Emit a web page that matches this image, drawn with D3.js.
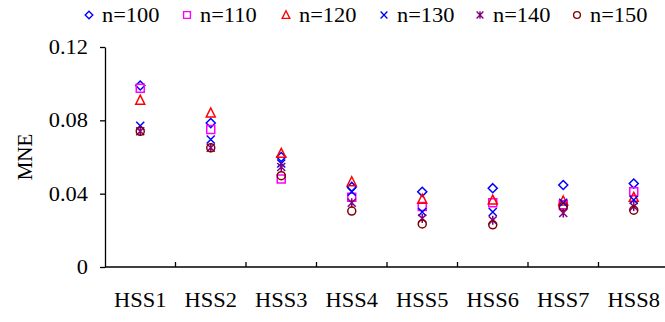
<!DOCTYPE html>
<html><head><meta charset="utf-8">
<script src="https://cdn.jsdelivr.net/npm/d3@7"></script>
<style>
html,body{margin:0;padding:0;background:#fff;}
svg{display:block;font-family:"Liberation Serif","Times New Roman",serif;}
</style></head>
<body><svg id="c" width="665" height="322"></svg>
<script>
const categories = ["HSS1","HSS2","HSS3","HSS4","HSS5","HSS6","HSS7","HSS8"];
const seriesNames = ["n=100","n=110","n=120","n=130","n=140","n=150"];
const n100 = [0.099, 0.0785, 0.060, 0.0437, 0.041, 0.043, 0.0447, 0.0455];
const n110 = [0.0975, 0.075, 0.048, 0.038, 0.033, 0.035, 0.034, 0.041];
const n120 = [0.091, 0.084, 0.062, 0.0465, 0.037, 0.0365, 0.036, 0.038];
const n130 = [0.077, 0.0695, 0.0565, 0.041, 0.030, 0.030, 0.035, 0.0365];
const n140 = [0.074, 0.065, 0.0545, 0.035, 0.0265, 0.0255, 0.0295, 0.033];
const n150 = [0.074, 0.065, 0.0498, 0.0305, 0.0235, 0.023, 0.033, 0.031];
const yTicks = [0, 0.04, 0.08, 0.12];
const yTickLabels = ["0", "0.04", "0.08", "0.12"];

const series = [
  {name: seriesNames[0], values: n100, shape: "diamond", color: "#0000FF"},
  {name: seriesNames[1], values: n110, shape: "square", color: "#FF00FF"},
  {name: seriesNames[2], values: n120, shape: "triangle", color: "#FF0000"},
  {name: seriesNames[3], values: n130, shape: "x", color: "#0000FF"},
  {name: seriesNames[4], values: n140, shape: "star", color: "#800080"},
  {name: seriesNames[5], values: n150, shape: "circle", color: "#800000"}
];

const svg = d3.select("#c");
const mLeft = 105, mRight = 669, mTop = 47, mBottom = 267;
const STRETCH = 1.12;

const y = d3.scaleLinear().domain([0, 0.12]).range([mBottom, mTop]);
const x = d3.scaleBand().domain(categories).range([mLeft, mRight]);

function stretch(sel) {
  sel.each(function() {
    const w = this.getComputedTextLength();
    d3.select(this).attr("textLength", w * STRETCH).attr("lengthAdjust", "spacingAndGlyphs");
  });
}

function shapePath(shape) {
  const r = 4;
  switch (shape) {
    case "diamond": return `M0,${-r-0.5}L${r+0.5},0L0,${r+0.5}L${-r-0.5},0Z`;
    case "square": return `M${-r},${-r}H${r}V${r}H${-r}Z`;
    case "triangle": return `M0,${-r-1}L${r+0.5},${r}L${-r-0.5},${r}Z`;
    case "x": return `M${-r},${-r}L${r},${r}M${r},${-r}L${-r},${r}`;
    case "star": return `M${-r},${-r}L${r},${r}M${r},${-r}L${-r},${r}M0,${-r-0.5}V${r+0.5}`;
    case "circle": return d3.arc()({innerRadius:0,outerRadius:r,startAngle:0,endAngle:2*Math.PI});
  }
}

// y axis
const yAxis = d3.axisLeft(y).tickValues(yTicks).tickSize(5).tickSizeOuter(0)
  .tickFormat((d,i) => yTickLabels[i]).tickPadding(12);
const gy = svg.append("g").attr("transform", `translate(${mLeft},0)`).call(yAxis);
gy.select(".domain").attr("stroke", "#000").attr("stroke-width", 1.3);
gy.selectAll(".tick line").attr("stroke", "#000").attr("stroke-width", 1.3);
gy.selectAll("text").attr("font-size", 20).attr("fill", "#000")
  .attr("font-family", "Liberation Serif").call(stretch);

// x axis line
svg.append("line").attr("x1", mLeft).attr("x2", 665).attr("y1", mBottom).attr("y2", mBottom)
  .attr("stroke", "#000").attr("stroke-width", 1.3);
// x ticks at category boundaries
const boundaries = categories.slice(1).map(c => x(c));
svg.selectAll(".xt").data(boundaries).enter().append("line")
  .attr("x1", d => d).attr("x2", d => d).attr("y1", mBottom).attr("y2", mBottom - 5)
  .attr("stroke", "#000").attr("stroke-width", 1.3);
// x labels
svg.selectAll(".xl").data(categories).enter().append("text")
  .attr("x", d => x(d) + x.bandwidth()/2).attr("y", 307)
  .attr("text-anchor", "middle").attr("font-size", 20).attr("fill", "#000")
  .text(d => d).call(stretch);

// y title
svg.append("text").attr("transform", `translate(32,${(mTop+mBottom)/2}) rotate(-90)`)
  .attr("text-anchor", "middle").attr("font-size", 21).attr("fill", "#000").text("MNE");

// points
series.forEach(s => {
  svg.append("g").selectAll("path").data(s.values).enter().append("path")
    .attr("transform", (d,i) => `translate(${x(categories[i]) + x.bandwidth()/2},${y(d)})`)
    .attr("d", shapePath(s.shape))
    .attr("fill", "none").attr("stroke", s.color).attr("stroke-width", 1.5);
});

// legend
const legendX = [89, 187, 286, 384, 480, 577];
const lg = svg.append("g");
series.forEach((s, i) => {
  lg.append("path").attr("transform", `translate(${legendX[i]},15) scale(0.85)`)
    .attr("d", shapePath(s.shape)).attr("fill", "none")
    .attr("stroke", s.color).attr("stroke-width", 1.6);
  lg.append("text").attr("x", legendX[i] + 13).attr("y", 22)
    .attr("font-size", 20).attr("fill", "#000")
    .text(s.name).call(stretch);
});
</script></body></html>
